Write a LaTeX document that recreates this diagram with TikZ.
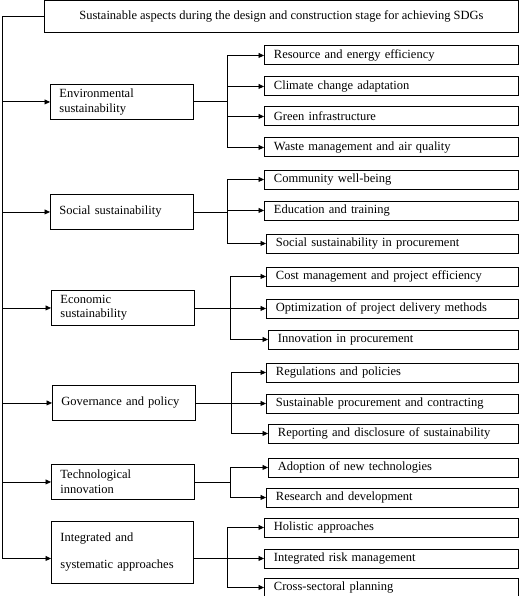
\documentclass[tikz,border=0pt]{standalone}
\usepackage{fontspec}
\setmainfont{Liberation Serif}
\usetikzlibrary{arrows.meta}
\newcommand\mainf{\fontsize{12.5}{14.5}\selectfont}
\tikzset{
  ln/.style={line width=0.9pt},
  mbox/.style={draw, line width=0.9pt, anchor=north west, inner xsep=9pt, inner ysep=0pt,
    align=left, text width=125pt, minimum height=35pt, font=\mainf},
  cbox/.style={draw, line width=0.9pt, anchor=north west, inner xsep=9.5pt, inner ysep=0pt,
    align=left, text width=#1, minimum height=19pt, font=\mainf},
  cbox/.default=235pt,
  arr/.style={-{Triangle[length=5.5pt,width=5pt]}, line width=0.9pt},
}
\begin{document}
\begin{tikzpicture}[x=1pt,y=-1pt]
\useasboundingbox (0,0) rectangle (520,596);
% title
\node[draw, line width=0.9pt, anchor=north west, inner sep=0pt, minimum width=474pt, minimum height=31.5pt,
  font=\mainf] (title) at (44,0.5) {Sustainable aspects during the design and construction stage for achieving SDGs};
% main boxes
\node[mbox] (env) at (50,84) {Environmental\\sustainability};
\node[mbox] (soc) at (50,194) {Social sustainability};
\node[mbox] (eco) at (51,290) {Economic\\sustainability};
\node[mbox] (gov) at (52,385) {Governance and policy};
\node[mbox] (tec) at (51,464) {Technological\\innovation};
\node[mbox, minimum height=62pt, text width=124pt, font=\fontsize{12.5}{27}\selectfont] (int) at (51,521) {Integrated and\\systematic approaches};
% children
\node[cbox] (e1) at (264,45.5) {Resource and energy efficiency};
\node[cbox] (e2) at (264,76.5) {Climate change adaptation};
\node[cbox] (e3) at (264,106.5) {Green infrastructure};
\node[cbox] (e4) at (264,137.5) {Waste management and air quality};
\node[cbox] (s1) at (264,169.5) {Community well-being};
\node[cbox] (s2) at (264,200.5) {Education and training};
\node[cbox=233pt] (s3) at (266,233.5) {Social sustainability in procurement};
\node[cbox=233pt] (c1) at (266,266.5) {Cost management and project efficiency};
\node[cbox=233pt] (c2) at (266,298.5) {Optimization of project delivery methods};
\node[cbox=231pt] (c3) at (268,329.5) {Innovation in procurement};
\node[cbox=233pt] (g1) at (266,362.5) {Regulations and policies};
\node[cbox=233pt] (g2) at (266,393.5) {Sustainable procurement and contracting};
\node[cbox=231pt] (g3) at (268,423.5) {Reporting and disclosure of sustainability};
\node[cbox=231pt] (t1) at (268,457.5) {Adoption of new technologies};
\node[cbox=233pt] (t2) at (266,487.5) {Research and development};
\node[cbox] (i1) at (264,517.5) {Holistic approaches};
\node[cbox] (i2) at (264,548.5) {Integrated risk management};
\node[cbox] (i3) at (264,577.5) {Cross-sectoral planning};
% trunk
\coordinate (T) at (2,16);
\draw[ln] (title.west) -- (title.west -| T) -- (T |- i2.west);
\foreach \m in {env,soc,eco,gov,tec}{\draw[arr] (T |- \m.west) -- (\m.west);}
\draw[arr] (T |- i2.west) -- (int.west |- i2.west);
% buses
\coordinate (bE) at (227,0);
\coordinate (bS) at (227,0);
\coordinate (bC) at (230,0);
\coordinate (bG) at (231,0);
\coordinate (bT) at (230,0);
\coordinate (bI) at (227,0);
\draw[ln] (env.east) -- (bE |- env.east);
\draw[ln] (bE |- e1.west) -- (bE |- e4.west);
\foreach \n in {e1,e2,e3,e4}{\draw[arr] (bE |- \n.west) -- (\n.west);}
\draw[ln] (soc.east) -- (bS |- soc.east);
\draw[ln] (bS |- s1.west) -- (bS |- s3.west);
\foreach \n in {s1,s2,s3}{\draw[arr] (bS |- \n.west) -- (\n.west);}
\draw[ln] (eco.east) -- (bC |- eco.east);
\draw[ln] (bC |- c1.west) -- (bC |- c3.west);
\foreach \n in {c1,c2,c3}{\draw[arr] (bC |- \n.west) -- (\n.west);}
\draw[ln] (gov.east) -- (bG |- gov.east);
\draw[ln] (bG |- g1.west) -- (bG |- g3.west);
\foreach \n in {g1,g2,g3}{\draw[arr] (bG |- \n.west) -- (\n.west);}
\draw[ln] (tec.east) -- (bT |- tec.east);
\draw[ln] (bT |- t1.west) -- (bT |- t2.west);
\foreach \n in {t1,t2}{\draw[arr] (bT |- \n.west) -- (\n.west);}
\draw[ln] (int.east |- i2.west) -- (bI |- i2.west);
\draw[ln] (bI |- i1.west) -- (bI |- i3.west);
\foreach \n in {i1,i2,i3}{\draw[arr] (bI |- \n.west) -- (\n.west);}
\end{tikzpicture}
\end{document}
